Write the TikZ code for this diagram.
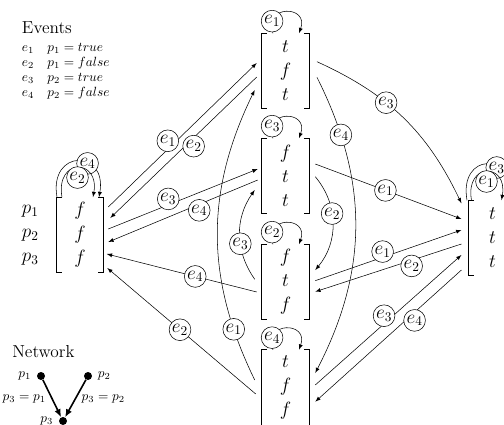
\documentclass[tikz,border=0pt,12pt]{standalone}
\usetikzlibrary{positioning,arrows.meta}

\tikzset{
  state/.style={minimum width=35.25pt, minimum height=56.25pt, inner sep=0pt,
    align=center, font=\fontsize{14.4}{18}\selectfont},
  rowlbl/.style={inner sep=0pt, align=center, font=\fontsize{14.4}{18}\selectfont},
  brk/.style={line width=0.9pt},
  evt/.style={circle, draw, fill=white, inner sep=.6pt, font=\fontsize{14}{16}\selectfont},
  pair/.style={auto, outer sep=-3.6pt},
  txt/.style={inner sep=0pt, anchor=base west},
  dot/.style={circle, fill, inner sep=0pt, minimum size=6pt},
  net/.style={line width=1.2pt, -{Latex[length=6pt,width=5pt]}},
}

\begin{document}
\begin{tikzpicture}[x=0.75pt, y=0.75pt, >=latex]
	\useasboundingbox (0,0) rectangle (504,-425);
	
	% states
	\node[state] (fff) at (80,-235) {$f$\\$f$\\$f$};
	\node[state] (tft) at (285.5,-71) {$t$\\$f$\\$t$};
	\node[state] (ftt) at (285.5,-176) {$f$\\$t$\\$t$};
	\node[state] (ftf) at (285.5,-282) {$f$\\$t$\\$f$};
	\node[state] (tff) at (285.5,-387.5) {$t$\\$f$\\$f$};
	\node[state] (ttt) at (492.5,-238) {$t$\\$t$\\$t$};
	\node[rowlbl, left=13pt of fff] (rows) {$p_1$\\$p_2$\\$p_3$};
	
	\foreach \s in {fff,tft,ftt,ftf,tff,ttt} {
		\draw[brk] ([xshift=4pt]\s.north west) -| (\s.south west) -- ++(4pt,0);
		\draw[brk] ([xshift=-4pt]\s.north east) -| (\s.south east) -- ++(-4pt,0);
	}
	
	% self loops
	\foreach \s/\e in {tft/1, ftt/3, ftf/2, tff/4}
		\draw[->] ([shift={(-12.5,0)}]\s.north) to[out=110,in=70,looseness=3] node[evt,pos=.17] {$e_\e$} ([shift={(13.5,0)}]\s.north);
	\draw[->] ([shift={(-23,0)}]fff.north) to[out=100,in=80,looseness=3] node[evt,pos=.63] {$e_4$} ([shift={(19,0)}]fff.north);
	\draw[->] ([shift={(-18,0)}]fff.north) to[out=100,in=80,looseness=3.3] node[evt,pos=.5,below=-1pt] {$e_2$} ([shift={(13,0)}]fff.north);
	\draw[->] ([shift={(-25.5,0)}]ttt.north) to[out=100,in=80,looseness=3.2] node[evt,pos=.65] {$e_3$} ([shift={(13.5,0)}]ttt.north);
	\draw[->] ([shift={(-21,0)}]ttt.north) to[out=100,in=80,looseness=3.3] node[evt,pos=.5,below=-1pt] {$e_1$} ([shift={(9,0)}]ttt.north);
	
	% left side
	\draw[->] ([shift={(4.5,28)}]fff.east) -- ([shift={(-5,8)}]tft.west) node[evt,pair,pos=.43] {$e_1$};
	\draw[->] ([shift={(-5,-6)}]tft.west) -- ([shift={(6.5,17)}]fff.east) node[evt,pair,pos=.46] {$e_2$};
	\draw[->] ([shift={(4.5,6)}]fff.east) -- ([shift={(-4,7)}]ftt.west) node[evt,pair,pos=.43] {$e_3$};
	\draw[->] ([shift={(-4,-4)}]ftt.west) -- ([shift={(4.5,-7)}]fff.east) node[evt,pair,pos=.42] {$e_4$};
	\draw[->] ([shift={(-5,-10)}]ftf.west) -- ([shift={(3,-19)}]fff.east) node[evt,pos=.41] {$e_4$};
	\draw[->] ([shift={(-6,-6.5)}]tff.west) -- ([shift={(3.5,-33)}]fff.east) node[evt,pos=.51] {$e_2$};
	
	% right side
	\draw[->] ([shift={(7.7,9.3)}]tft.east) to[bend left=20] node[evt,pos=.38] {$e_3$} ([shift={(-7.3,34.7)}]ttt.west);
	\draw[->] ([shift={(6,12)}]ftt.east) -- ([shift={(-7.3,19)}]ttt.west) node[evt,pos=.48] {$e_1$};
	\draw[->] ([shift={(6,1.3)}]ftf.east) -- ([shift={(-7.3,8)}]ttt.west) node[evt,pair,pos=.49] {$e_1$};
	\draw[->] ([shift={(-7.3,-6)}]ttt.west) -- ([shift={(6,-9.7)}]ftf.east) node[evt,pair,pos=.37] {$e_2$};
	\draw[->] ([shift={(6,2.5)}]tff.east) -- ([shift={(-7.3,-17)}]ttt.west) node[evt,pair,pos=.5] {$e_3$};
	\draw[->] ([shift={(-7.3,-32)}]ttt.west) -- ([shift={(6,-14.2)}]tff.east) node[evt,pair,pos=.35] {$e_4$};
	
	% between the middle states
	\draw[->] ([shift={(7.7,-6.3)}]tft.east) to[bend left=27] node[evt,pos=.19] {$e_4$} ([shift={(6,14.5)}]tff.east);
	\draw[->] ([shift={(6,-0.7)}]ftt.east) to[bend left=40] node[evt,pos=.4] {$e_2$} ([shift={(6,12)}]ftf.east);
	\draw[->] ([shift={(-7,2.7)}]ftf.west) to[bend left=35] node[evt,pos=.4] {$e_3$} ([shift={(-7,-14)}]ftt.west);
	\draw[->] ([shift={(-7,7.5)}]tff.west) to[bend left=26] node[evt,pos=.17] {$e_1$} ([shift={(-7,-19)}]tft.west);
	
	% events
	\node[txt, font=\fontsize{13}{16}\selectfont] (events) at (21.7,-33) {Events};
	\foreach \i/\p/\v in {1/1/true,2/1/false,3/2/true,4/2/false}
		\node[txt, font=\footnotesize] (ev\i) at (21.7,{-36.5-15*\i}) {$e_\i\quad p_\p=\v$};
	
	% network
	\node[txt, font=\fontsize{13}{16}\selectfont] (network) at (12,-357) {Network};
	\node[dot, label={[font=\footnotesize]left:$p_1$}] (n1) at (41,-376) {};
	\node[dot, label={[font=\footnotesize]right:$p_2$}] (n2) at (88,-376) {};
	\node[dot, label={[font=\footnotesize]left:$p_3$}] (n3) at (63,-421) {};
	\draw[net] (n1) -- (n3) node[midway, left=0pt, font=\footnotesize] {$p_3=p_1$};
	\draw[net] (n2) -- (n3) node[midway, right=0pt, font=\footnotesize] {$p_3=p_2$};
\end{tikzpicture}
\end{document}
